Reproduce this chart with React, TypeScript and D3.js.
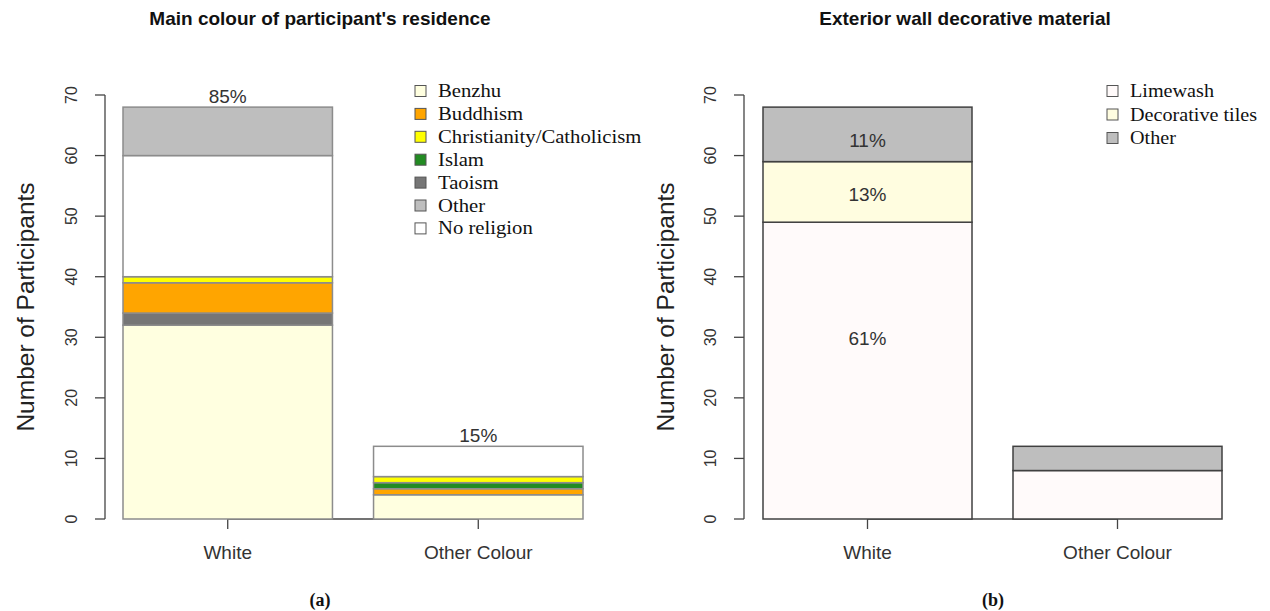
import React from "react";
import * as d3 from "d3";

// ---------- data ----------
const categories = ["White", "Other Colour"];
const religions = ["Benzhu", "Buddhism", "Christianity/Catholicism", "Islam", "Taoism", "Other", "No religion"];
const religionColors = ["#FFFFE0", "#FFA500", "#FFFF00", "#228B22", "#767676", "#BEBEBE", "#FFFFFF"];
// counts in legend order
const religionWhite = [32, 5, 1, 0, 2, 8, 20];
const religionOtherColour = [4, 1, 1, 1, 0, 0, 5];
// bottom-to-top stacking order for each bar
const stackOrderWhite = ["Benzhu", "Taoism", "Buddhism", "Christianity/Catholicism", "Islam", "No religion", "Other"];
const stackOrderOtherColour = ["Benzhu", "Buddhism", "Islam", "Christianity/Catholicism", "Taoism", "No religion", "Other"];

const materials = ["Limewash", "Decorative tiles", "Other"];
const materialColors = ["#FFFAFA", "#FFFDE0", "#BEBEBE"];
const materialWhite = [49, 10, 9];
const materialOtherColour = [8, 0, 4];
const materialLabelAt = [29.8, 53.6, 62.6];

const yTicks = [0, 10, 20, 30, 40, 50, 60, 70];
const titleA = "Main colour of participant's residence";
const titleB = "Exterior wall decorative material";
const yTitle = "Number of Participants";

// ---------- layout ----------
const W = 1270, H = 611;
const y = d3.scaleLinear().domain([0, 70]).range([519, 95]);

type Seg = { key: string; y0: number; y1: number; color: string };

function stackBar(order: string[], keys: string[], vals: number[], colors: string[]): Seg[] {
  let acc = 0;
  const out: Seg[] = [];
  order.forEach((k) => {
    const i = keys.indexOf(k);
    const v = vals[i];
    if (v > 0) {
      out.push({ key: k, y0: acc, y1: acc + v, color: colors[i] });
    }
    acc += v;
  });
  return out;
}

const sans = "'Liberation Sans', Arial, sans-serif";
const serif = "'Liberation Serif', 'Times New Roman', serif";

function Panel(props: {
  axisX: number;
  range: [number, number];
  stacks: Seg[][];
  stroke: string;
  axisColor: string;
  title: string;
  titleX: number;
  yTitleX: number;
}) {
  const { axisX, range, stacks, stroke, axisColor, title, titleX, yTitleX } = props;
  const x = d3.scaleBand<string>().domain(categories).range(range).paddingInner(0.164).paddingOuter(0);
  const centers = categories.map((c) => (x(c) as number) + x.bandwidth() / 2);
  return (
    <g>
      <text x={titleX} y={25} textAnchor="middle" fontFamily={sans} fontWeight="bold" fontSize={19} fill="#111">
        {title}
      </text>
      {/* y axis */}
      <line x1={axisX} x2={axisX} y1={y(0)} y2={y(70)} stroke={axisColor} strokeWidth={1.3} />
      {yTicks.map((t) => (
        <g key={t}>
          <line x1={axisX - 10} x2={axisX} y1={y(t)} y2={y(t)} stroke={axisColor} strokeWidth={1.3} />
          <text
            transform={`translate(${axisX - 28},${y(t)}) rotate(-90)`}
            textAnchor="middle"
            fontFamily={sans}
            fontSize={16}
            fill="#333"
          >
            {t}
          </text>
        </g>
      ))}
      <text
        transform={`translate(${yTitleX},${(y(0) + y(70)) / 2}) rotate(-90)`}
        textAnchor="middle"
        fontFamily={sans}
        fontSize={24.5}
        dy={8.5}
        fill="#222"
      >
        {yTitle}
      </text>
      {/* x axis */}
      <line x1={centers[0]} x2={centers[centers.length - 1]} y1={y(0)} y2={y(0)} stroke={axisColor} strokeWidth={1.3} />
      {centers.map((cx, i) => (
        <g key={i}>
          <line x1={cx} x2={cx} y1={y(0)} y2={y(0) + 10} stroke={axisColor} strokeWidth={1.3} />
          <text x={cx} y={559} textAnchor="middle" fontFamily={sans} fontSize={19} fill="#333">
            {categories[i]}
          </text>
        </g>
      ))}
      {/* bars */}
      {stacks.map((segs, i) =>
        segs.map((s) => (
          <rect
            key={i + s.key}
            x={x(categories[i]) as number}
            width={x.bandwidth()}
            y={y(s.y1)}
            height={y(s.y0) - y(s.y1)}
            fill={s.color}
            stroke={stroke}
            strokeWidth={1.5}
          />
        ))
      )}
    </g>
  );
}

export default function App() {
  const stacksA = [
    stackBar(stackOrderWhite, religions, religionWhite, religionColors),
    stackBar(stackOrderOtherColour, religions, religionOtherColour, religionColors),
  ];
  const stacksB = [
    stackBar(materials, materials, materialWhite, materialColors),
    stackBar(materials, materials, materialOtherColour, materialColors),
  ];
  const totalA = [d3.sum(religionWhite), d3.sum(religionOtherColour)];
  const grand = d3.sum(totalA);

  const xA = d3.scaleBand<string>().domain(categories).range([123, 583]).paddingInner(0.164).paddingOuter(0);
  const xB = d3.scaleBand<string>().domain(categories).range([763, 1222]).paddingInner(0.164).paddingOuter(0);

  return (
    <svg width={W} height={H} style={{ position: "absolute", left: 0, top: 0, background: "#fff" }}>
      <rect width={W} height={H} fill="#fff" />
      <Panel
        axisX={105}
        range={[123, 583]}
        stacks={stacksA}
        stroke="#8c8c8c"
        axisColor="#444"
        title={titleA}
        titleX={320}
        yTitleX={25}
      />
      <Panel
        axisX={744}
        range={[763, 1222]}
        stacks={stacksB}
        stroke="#404040"
        axisColor="#444"
        title={titleB}
        titleX={965}
        yTitleX={665}
      />
      {/* percent labels panel a */}
      {categories.map((c, i) => (
        <text
          key={c}
          x={(xA(c) as number) + xA.bandwidth() / 2}
          y={y(totalA[i]) - 4}
          textAnchor="middle"
          fontFamily={sans}
          fontSize={19}
          fill="#333"
        >
          {Math.round((totalA[i] / grand) * 100) + "%"}
        </text>
      ))}
      {/* percent labels panel b (White bar) */}
      {materials.map((m, i) => (
        <text
          key={m}
          x={(xB(categories[0]) as number) + xB.bandwidth() / 2}
          y={y(materialLabelAt[i])}
          dy={7}
          textAnchor="middle"
          fontFamily={sans}
          fontSize={19}
          fill="#333"
        >
          {Math.round((materialWhite[i] / grand) * 100) + "%"}
        </text>
      ))}
      {/* legend a */}
      {religions.map((r, i) => (
        <g key={r} transform={`translate(415,${91 + i * 22.9})`}>
          <rect x={0} y={-5.5} width={11} height={11} fill={religionColors[i]} stroke="#555" strokeWidth={1} />
          <text transform="translate(23,6) scale(1.15,1)" fontFamily={serif} fontSize={18} fill="#111">
            {r}
          </text>
        </g>
      ))}
      {/* legend b */}
      {materials.map((m, i) => (
        <g key={m} transform={`translate(1107,${91 + i * 23.5})`}>
          <rect x={0} y={-5.5} width={11} height={11} fill={materialColors[i]} stroke="#555" strokeWidth={1} />
          <text transform="translate(23,6) scale(1.12,1)" fontFamily={serif} fontSize={18} fill="#111">
            {m}
          </text>
        </g>
      ))}
      <text x={320} y={606} textAnchor="middle" fontFamily={serif} fontWeight="bold" fontSize={18} fill="#111">
        (a)
      </text>
      <text x={993} y={606} textAnchor="middle" fontFamily={serif} fontWeight="bold" fontSize={18} fill="#111">
        (b)
      </text>
    </svg>
  );
}
